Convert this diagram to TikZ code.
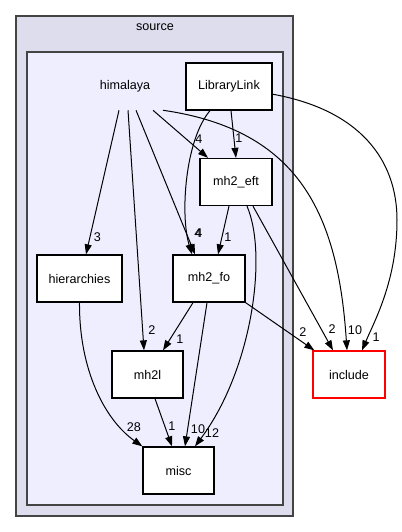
\documentclass[tikz,border=0pt]{standalone}
\usepackage{fontspec}
\setmainfont{Liberation Sans}
\usetikzlibrary{arrows.meta}
\newlength{\du}
\setlength{\du}{0.75pt}
\newcommand{\dirfont}{\fontsize{9.45pt}{11pt}\selectfont}
\definecolor{clusterfill}{HTML}{DDDDEE}
\definecolor{dirfill}{HTML}{EEEEFF}
\definecolor{clusterline}{HTML}{444444}
\tikzset{
  dirbox/.style={draw=black, line width=1.3\du, fill=white, inner sep=0pt, minimum height=47\du, font=\dirfont},
  dirname/.style={inner sep=0pt, minimum width=75\du, minimum height=47\du, font=\dirfont},
  cluster/.style={draw=clusterline, line width=2\du},
  dep/.style={draw=black, line width=1\du, -{Triangle[length=7.5pt,width=5.25pt]}},
  cnt/.style={inner sep=0pt, font=\dirfont, text=black},
}

\begin{document}
\begin{tikzpicture}
\pgftransformxscale{1.000000}
\pgftransformyscale{-1.000000}
\useasboundingbox (0\du,0\du) rectangle (402\du,532\du);
% clusters
\draw[cluster, fill=clusterfill] (16\du,16\du) rectangle (293\du,516\du);
\node[font=\dirfont] (source) at (155\du,27.5\du) {source};
\draw[cluster, fill=dirfill] (26.7\du,51.7\du) rectangle (283\du,505\du);
% directories
\node[dirname] (himalaya) at (125\du,86.5\du) {himalaya};
\node[dirbox, minimum width=86\du] (librarylink) at (229\du,86.5\du) {LibraryLink};
\node[dirbox, minimum width=72\du] (mh2eft) at (236\du,182\du) {mh2\_eft};
\node[dirbox, minimum width=85\du] (hierarchies) at (79.5\du,278.5\du) {hierarchies};
\node[dirbox, minimum width=72\du] (mh2fo) at (209\du,278.5\du) {mh2\_fo};
\node[dirbox, minimum width=71\du] (mh2l) at (147.5\du,374.5\du) {mh2l};
\node[dirbox, minimum width=71\du] (misc) at (178.5\du,470.5\du) {misc};
\node[dirbox, minimum width=72\du, draw=red] (include) at (349\du,374.5\du) {include};
% himalaya
\draw[dep] ([xshift=-6\du]himalaya.south) -- ([xshift=6.5\du]hierarchies.north);
\draw[dep] ([xshift=3\du]himalaya.south) -- ([xshift=-3.5\du]mh2l.north);
\draw[dep] ([xshift=11\du]himalaya.south) -- ([xshift=-14\du]mh2fo.north);
\draw[dep] ([xshift=28\du]himalaya.south) -- ([xshift=-28\du]mh2eft.north);
\draw[dep] ([xshift=38\du]himalaya.south) .. controls (300\du,130\du) and (338\du,215\du) .. ([xshift=-2\du]include.north);
% LibraryLink
\draw[dep] ([xshift=2\du]librarylink.south) -- (mh2eft.north);
\draw[dep] ([xshift=-19\du]librarylink.south) .. controls (185\du,140\du) and (180\du,215\du) .. ([xshift=-17\du]mh2fo.north);
\draw[dep] (librarylink.-10) .. controls (360\du,110\du) and (397\du,160\du) .. (397\du,220\du) .. controls (397\du,280\du) and (375\du,320\du) .. ([xshift=13\du]include.north);
% mh2_eft
\draw[dep] ([xshift=-7\du]mh2eft.south) -- ([xshift=9\du]mh2fo.north);
\draw[dep] ([xshift=11\du]mh2eft.south) .. controls (268\du,255\du) and (252\du,370\du) .. ([xshift=16.5\du]misc.north);
\draw[dep] ([xshift=17\du]mh2eft.south) -- ([xshift=-16\du]include.north);
% hierarchies
\draw[dep] (hierarchies.south) .. controls (79\du,370\du) and (105\du,420\du) .. (misc.north west);
% mh2_fo
\draw[dep] ([xshift=-16\du]mh2fo.south) -- ([xshift=15.5\du]mh2l.north);
\draw[dep] ([xshift=-2\du]mh2fo.south) -- ([xshift=6.5\du]misc.north);
\draw[dep] (mh2fo.south east) -- ([xshift=2\du]include.north west);
% mh2l
\draw[dep] ([xshift=7.5\du]mh2l.south) -- ([xshift=-6.5\du]misc.north);
% counts
\node[cnt] (c3) at (97.5\du,237\du) {3};
\node[cnt] (c2a) at (152\du,330\du) {2};
\node[cnt] (c4a) at (198\du,233\du) {4};
\node[cnt] (c4b) at (199\du,233\du) {4};
\node[cnt] (c4c) at (199\du,139\du) {4};
\node[cnt] (c10a) at (355\du,330\du) {10};
\node[cnt] (c1a) at (239\du,138\du) {1};
\node[cnt] (c1b) at (376\du,337\du) {1};
\node[cnt] (c1c) at (228\du,237\du) {1};
\node[cnt] (c12) at (212\du,433\du) {12};
\node[cnt] (c2b) at (332\du,329\du) {2};
\node[cnt] (c28) at (134\du,427\du) {28};
\node[cnt] (c1d) at (180\du,339\du) {1};
\node[cnt] (c10b) at (198\du,429\du) {10};
\node[cnt] (c2c) at (303\du,332\du) {2};
\node[cnt] (c1e) at (172\du,426\du) {1};
\end{tikzpicture}
\end{document}
